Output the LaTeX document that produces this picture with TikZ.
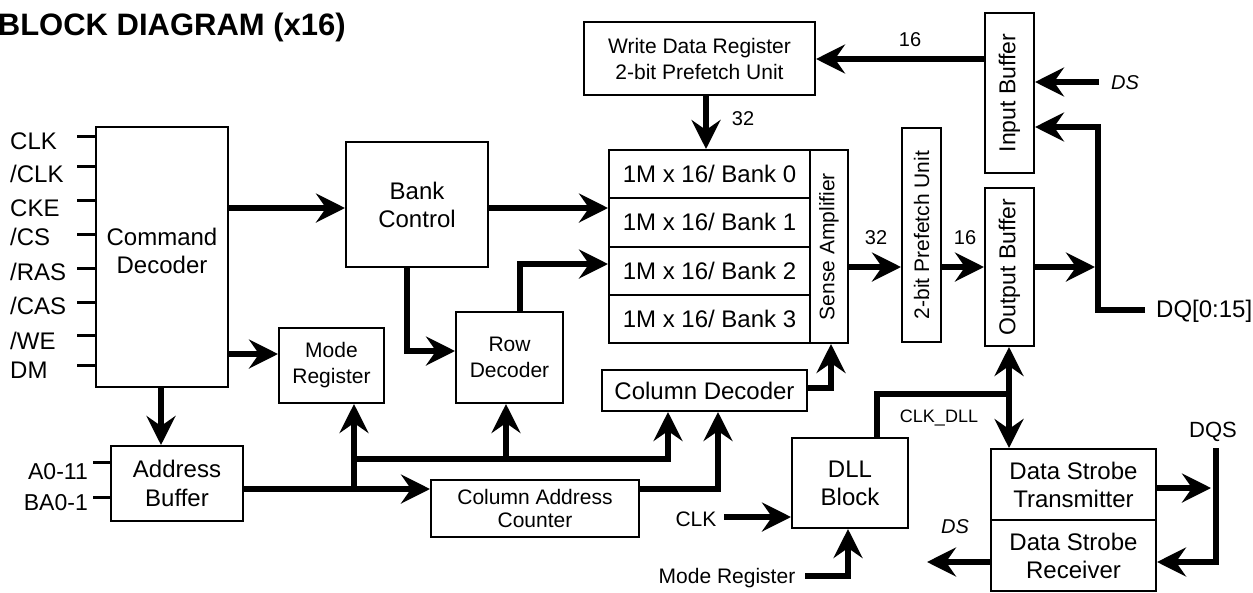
\documentclass[tikz,border=0pt]{standalone}
\usepackage{fontspec}
\setmainfont{Liberation Sans}
\usetikzlibrary{arrows.meta}
\newcommand\fsz[2]{\fontsize{#1}{#2}\selectfont}
\begin{document}
\begin{tikzpicture}[x=1pt,y=-1pt,
  box/.style={draw,line width=2pt,inner sep=0pt,align=center},
  big/.style={font=\fsz{24}{28}},
  small/.style={font=\fsz{21}{26}},
  txt/.style={inner sep=0pt,align=center},
  lab/.style={inner sep=0pt,font=\fsz{24}{28}},
  num/.style={inner sep=0pt,font=\fsz{20}{24}},
  wire/.style={line width=6pt,line join=miter,line cap=butt},
  arr/.style={wire,-{Stealth[length=29pt,width=29pt,inset=10pt]}},
  dbl/.style={wire,{Stealth[length=29pt,width=29pt,inset=10pt]}-{Stealth[length=29pt,width=29pt,inset=10pt]}},
  tick/.style={line width=3pt}]
\useasboundingbox (0,0) rectangle (1253,592);

% title
\node[txt,anchor=base east,font=\fsz{31}{36}\bfseries] (title) at (346,35) {BLOCK DIAGRAM (x16)};

% boxes
\node[box,minimum width=132,minimum height=260] (cmd) at (162,257) {};
\node[txt,big] (cmdt) at (162,251) {Command\\Decoder};
\node[box,big,minimum width=142,minimum height=125] (bank) at (417,204.5) {Bank\\Control};
\node[box,small,minimum width=105,minimum height=75] (mode) at (331.5,365.5) {Mode\\Register};
\node[box,big,font=\fsz{24}{29},minimum width=132,minimum height=75] (addr) at (177,483.5) {Address\\Buffer};
\node[box,small,minimum width=107,minimum height=91] (row) at (509.5,357.5) {Row\\Decoder};
\node[box,big,minimum width=205,minimum height=41] (coldec) at (704.5,390.5) {Column Decoder};
\node[box,font=\fsz{21}{23},minimum width=208,minimum height=57] (cac) at (535,508.5) {Column Address\\Counter};
\node[box,big,minimum width=201,minimum height=48.25] (b0) at (709.5,174.125) {1M x 16/ Bank 0};
\node[box,big,minimum width=201,minimum height=48.25] (b1) at (709.5,222.375) {1M x 16/ Bank 1};
\node[box,big,minimum width=201,minimum height=48.25] (b2) at (709.5,270.625) {1M x 16/ Bank 2};
\node[box,big,minimum width=201,minimum height=48.25] (b3) at (709.5,318.875) {1M x 16/ Bank 3};
\node[box,minimum width=38,minimum height=193] (sense) at (829,246.5) {};
\node[txt,small,rotate=90] (senset) at (sense) {Sense Amplifier};
\node[box,small,minimum width=231,minimum height=73] (wdr) at (699.5,58.5) {Write Data Register\\2-bit Prefetch Unit};
\node[box,minimum width=49,minimum height=160] (inbuf) at (1009.5,93) {};
\node[txt,font=\fsz{23}{28},rotate=90] (inbuft) at (inbuf) {Input Buffer};
\node[box,minimum width=49,minimum height=158] (outbuf) at (1009.5,267) {};
\node[txt,font=\fsz{23}{28},rotate=90] (outbuft) at (outbuf) {Output Buffer};
\node[box,minimum width=39,minimum height=214] (pref) at (921.5,235) {};
\node[txt,small,rotate=90] (preft) at (pref) {2-bit Prefetch Unit};
\node[box,big,minimum width=116,minimum height=90] (dll) at (850,483) {DLL\\Block};
\node[box,big,minimum width=165,minimum height=71] (dst) at (1073.5,484.5) {Data Strobe\\Transmitter};
\node[box,big,minimum width=165,minimum height=71] (dsr) at (1073.5,555.5) {Data Strobe\\Receiver};

% command decoder inputs
\node[lab,anchor=base west] (lclk) at (10,149.6) {CLK};
\node[lab,anchor=base west] (lnclk) at (10,182.6) {/CLK};
\node[lab,anchor=base west] (lcke) at (10,216.6) {CKE};
\node[lab,anchor=base west] (lcs) at (10,245.6) {/CS};
\node[lab,anchor=base west] (lras) at (10,280.6) {/RAS};
\node[lab,anchor=base west] (lcas) at (10,314.4) {/CAS};
\node[lab,anchor=base west] (lwe) at (10,349.4) {/WE};
\node[lab,anchor=base west] (ldm) at (10,378.2) {DM};
\coordinate (t1) at (77,136);
\coordinate (t2) at (77,166);
\coordinate (t3) at (77,200);
\coordinate (t4) at (77,234);
\coordinate (t5) at (77,268);
\coordinate (t6) at (77,302);
\coordinate (t7) at (77,335);
\coordinate (t8) at (77,365);
\foreach \t in {t1,t2,t3,t4,t5,t6,t7,t8}{\draw[tick] (\t) -- (cmd.west |- \t);}

% address inputs
\node[lab,font=\fsz{23}{28},anchor=base east] (la) at (88,479.3) {A0-11};
\node[lab,font=\fsz{23}{28},anchor=base east] (lba) at (88,510.3) {BA0-1};
\coordinate (a1) at (93,462);
\coordinate (a2) at (93,497);
\draw[tick] (a1) -- (addr.west |- a1);
\draw[tick] (a2) -- (addr.west |- a2);

% connections
\coordinate (y208) at (0,208);
\draw[arr] (cmd.east |- y208) -- (bank.west |- y208);
\draw[arr] (bank.east |- y208) -- (b1.west |- y208);
\coordinate (r1) at (407,351);
\draw[arr] (bank.south -| r1) -- (r1) -- (row.west |- r1);
\coordinate (r2) at (520,264);
\draw[arr] (row.north -| r2) -- (r2) -- (b2.west |- r2);
\coordinate (m1) at (0,354);
\draw[arr] (cmd.east |- m1) -- (mode.west |- m1);
\coordinate (d1) at (161,0);
\draw[arr] (cmd.south -| d1) -- (addr.north -| d1);

\coordinate (j1) at (354,489);
\coordinate (j2) at (354,459);
\coordinate (j3) at (506,459);
\coordinate (j4) at (668,459);
\draw[arr] (addr.east |- j1) -- (cac.west |- j1);
\draw[arr] (j1) -- (mode.south -| j1);
\draw[arr] (j2) -- (j4) -- (coldec.south -| j4);
\draw[arr] (j3) -- (row.south -| j3);

\coordinate (k1) at (718,489);
\draw[arr] (cac.east |- k1) -- (k1) -- (coldec.south -| k1);
\coordinate (k2) at (831,388);
\draw[arr] (coldec.east |- k2) -- (k2) -- (sense.south -| k2);

\coordinate (w1) at (706,0);
\draw[arr] (wdr.south -| w1) -- (b0.north -| w1);
\node[num] (n32a) at (743,119) {32};
\coordinate (w2) at (0,59);
\draw[arr] (inbuf.west |- w2) -- (wdr.east |- w2);
\node[num] (n16a) at (910,40) {16};

\coordinate (ds1) at (1099,82);
\draw[arr] (ds1) -- (inbuf.east |- ds1);
\node[inner sep=0pt,font=\fsz{20}{24}\itshape,anchor=west] (dsa) at (1111,83) {DS};

\coordinate (dq1) at (1145,310);
\coordinate (dq2) at (1098,310);
\coordinate (dq3) at (1098,127);
\draw[arr] (dq1) -- (dq2) -- (dq3) -- (inbuf.east |- dq3);
\node[lab,anchor=west] (ldq) at (1156,311) {DQ[0:15]};
\coordinate (dq4) at (1095,267);
\draw[arr] (outbuf.east |- dq4) -- (dq4);

\coordinate (s1) at (0,267);
\draw[arr] (sense.east |- s1) -- (pref.west |- s1);
\node[num] (n32b) at (876,238) {32};
\draw[arr] (pref.east |- s1) -- (outbuf.west |- s1);
\node[num] (n16b) at (965,238) {16};

\coordinate (c1) at (877,394);
\coordinate (c2) at (1009,394);
\draw[wire] (dll.north -| c1) -- (c1) -- (c2);
\draw[arr] (c2) -- (outbuf.south -| c2);
\draw[arr] (c2) -- (dst.north -| c2);
\node[inner sep=0pt,font=\fsz{18}{22}] (lclkdll) at (939,418) {CLK\_DLL};

\coordinate (q0) at (1211,488);
\draw[arr] (dst.east |- q0) -- (q0);
\coordinate (q1) at (1216,448);
\coordinate (q2) at (1216,562);
\draw[arr] (q1) -- (q2) -- (dsr.east |- q2);
\node[inner sep=0pt,font=\fsz{22}{26}] (ldqs) at (1213,432) {DQS};
\coordinate (q3) at (927,562);
\draw[arr] (dsr.west |- q3) -- (q3);
\node[inner sep=0pt,font=\fsz{20}{24}\itshape] (dsb) at (955,527) {DS};

\node[inner sep=0pt,font=\fsz{21}{26}] (lclk2) at (696,519) {CLK};
\coordinate (e1) at (724,517);
\draw[arr] (e1) -- (dll.west |- e1);
\node[inner sep=0pt,font=\fsz{21}{26}] (lmode2) at (727,578) {Mode Register};
\coordinate (e2) at (805,576);
\coordinate (e3) at (848,576);
\draw[arr] (e2) -- (e3) -- (dll.south -| e3);
\end{tikzpicture}
\end{document}
